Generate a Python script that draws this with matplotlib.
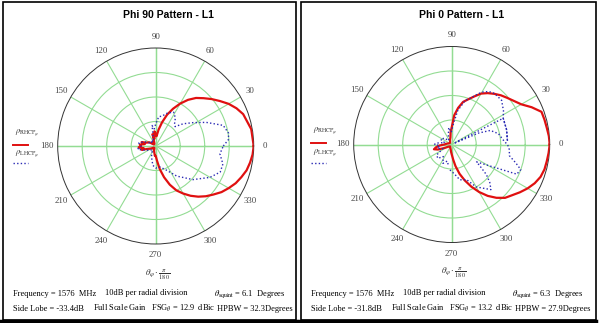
import numpy as np
import matplotlib.pyplot as plt
from matplotlib.lines import Line2D
from matplotlib.patches import Rectangle

plt.rcParams["mathtext.fontset"] = "stix"

W, H = 600, 323
DB_MIN = -40  # 4 rings x 10 dB

# Phi 90 cut (left panel), gain in dB relative to peak
phi90_rhcp_ang = [0, 10, 20, 25, 30, 35, 40, 45, 50, 55, 60, 65, 70, 75, 80, 85, 90, 95, 100, 105,
                  110, 120, 130, 140, 150, 160, 165, 170, 175, 180, 185, 190, 195, 200, 210, 220, 230, 240, 250, 260,
                  265, 270, 275, 280, 285, 290, 295, 300, 305, 310, 315, 320, 325, 330, 335, 340, 345, 350, 355, 360]
phi90_rhcp_db = [0, -0.4, -2.0, -3.6, -5.6, -8.0, -10.2, -12.4, -14.4, -17.0, -20.0, -23.2, -26.4, -30.0, -33.2, -36.0, -35.0, -34.0, -37.0, -35.0,
                 -38.0, -39.0, -38.0, -39.0, -37.0, -36.0, -34.0, -35.5, -33.5, -34.0, -33.0, -35.0, -34.0, -36.5, -38.0, -39.0, -38.5, -39.0, -38.0, -37.0,
                 -36.0, -36.0, -34.0, -30.4, -26.8, -23.2, -20.0, -17.6, -15.2, -13.0, -11.0, -9.2, -7.2, -5.6, -4.0, -2.8, -1.6, -0.9, -0.3, 0]
phi90_lhcp_ang = [0, 5, 10, 17, 25, 32, 39, 45, 50, 55, 62, 70, 78, 84, 90, 95, 100, 105, 115, 130,
                  145, 160, 170, 180, 190, 200, 215, 230, 245, 255, 262, 270, 282, 294, 305, 318, 330, 338, 345, 353, 360]
phi90_lhcp_db = [-12.4, -10.2, -9.8, -11.2, -17.2, -22.0, -25.6, -28.8, -28.0, -26.0, -24.4, -25.6, -27.5, -28.0, -31.0, -33.0, -31.5, -36.0, -38.0, -37.0,
                 -38.0, -35.0, -33.0, -34.0, -32.5, -35.0, -37.0, -38.0, -36.0, -34.0, -32.0, -31.0, -31.2, -29.2, -25.0, -19.5, -14.4, -11.6, -11.6, -13.6, -12.4]

# Phi 0 cut (right panel)
phi0_rhcp_ang = [0, 5, 10, 15, 20, 25, 30, 35, 40, 45, 50, 55, 60, 65, 70, 75, 80, 85, 90, 95,
                 100, 110, 130, 150, 170, 180, 185, 190, 195, 200, 205, 215, 230, 250, 265, 270, 276, 280, 285, 290,
                 295, 300, 305, 310, 315, 320, 325, 330, 335, 340, 345, 350, 355, 360]
phi0_rhcp_db = [0, -0.2, -0.6, -0.8, -1.0, -4.0, -7.2, -9.0, -10.4, -11.6, -13.0, -14.4, -16.0, -18.4, -20.4, -22.0, -24.8, -28.0, -33.0, -35.0,
                -37.0, -38.0, -39.0, -39.0, -38.0, -37.0, -35.0, -33.5, -32.5, -34.0, -36.5, -38.5, -39.0, -38.5, -37.0, -36.0, -33.6, -31.0, -27.6, -24.4,
                -21.0, -17.6, -14.4, -11.6, -9.2, -7.8, -6.0, -4.2, -2.6, -1.4, -0.8, -0.6, -0.3, 0]
# measured trace order (doubles back near 27 deg)
phi0_lhcp_ang = [266, 275, 283, 293, 300, 311, 315, 319, 322, 325, 335.5, 340, 344, 349, 355, 0, 3, 13, 20, 23,
                 27, 27, 15, 3, 15, 27, 33, 41.5, 50, 55, 59, 62, 68, 73, 80, 86, 92, 100, 110, 125,
                 140, 155, 165, 175, 180, 185, 195, 205, 215, 225, 235, 245, 255, 262]
phi0_lhcp_db = [-29.6, -28.0, -25.2, -24.4, -20.0, -15.6, -18.0, -21.2, -24.8, -27.6, -10.8, -10.0, -12.8, -16.0, -16.4, -17.2, -18.4, -20.4, -23.2, -28.0,
                -39.0, -16.4, -16.8, -17.2, -16.8, -16.4, -14.8, -12.8, -12.8, -13.6, -15.0, -16.4, -19.6, -21.2, -26.0, -32.0, -35.0, -33.0, -36.0, -38.0,
                -36.0, -35.0, -37.0, -33.5, -33.0, -35.0, -34.0, -36.0, -32.5, -32.0, -34.0, -31.5, -33.0, -31.0]

angle_ticks = list(range(0, 360, 30))
titles = ["Phi 90 Pattern - L1", "Phi 0 Pattern - L1"]
freq_mhz = "1576"
squint = ["6.1", "6.3"]
side_lobe = ["-33.4", "-31.8"]
fsg = ["12.9", "13.2"]
hpbw = ["32.3", "27.9"]

fig = plt.figure(figsize=(6, 3.23), dpi=100)


def fx(x):
    return x / W


def fy(y):
    return 1 - y / H


def polar_panel(cx, cy, R, rh_ang, rh_db, lh_ang, lh_db):
    ax = fig.add_axes([fx(cx - R), fy(cy + R), 2 * R / W, 2 * R / H], projection="polar")
    ax.set_ylim(DB_MIN, 0)
    ax.set_rticks([-30, -20, -10])
    ax.set_yticklabels([])
    ax.set_thetagrids(angle_ticks, labels=[""] * len(angle_ticks))
    ax.grid(color="#93dc93", lw=0.8)
    ax.spines["polar"].set_color("#333333")
    ax.spines["polar"].set_linewidth(0.7)
    ax.patch.set_alpha(0)
    # main axes a bit stronger green
    for a in (0, 90):
        ax.plot(np.radians([a, a + 180]), [0, 0], color="#4cc84c", lw=0.9, zorder=1)
    ax.plot(np.radians(rh_ang), np.clip(rh_db, DB_MIN, 0), color="#e01010", lw=1.6, zorder=3)
    ax.plot(np.radians(lh_ang), np.clip(lh_db, DB_MIN, 0), color="#2a2ab4", lw=1.0,
            ls=(0, (1, 1.6)), zorder=4)
    for a in angle_ticks:
        ax.text(np.radians(a), 4.6, str(a), ha="center", va="center", fontsize=6.3,
                family="Liberation Serif", color="#444444")
    return ax


panels = [
    dict(x0=3, x1=296, cx=155.7, cy=146.0, title_x=168,
         rh=(phi90_rhcp_ang, phi90_rhcp_db), lh=(phi90_lhcp_ang, phi90_lhcp_db)),
    dict(x0=301, x1=596, cx=451.7, cy=144.5, title_x=462,
         rh=(phi0_rhcp_ang, phi0_rhcp_db), lh=(phi0_lhcp_ang, phi0_lhcp_db)),
]

serif = "Liberation Serif"
for i, p in enumerate(panels):
    polar_panel(p["cx"], p["cy"], 98, *p["rh"], *p["lh"])

    # frame
    fig.add_artist(Rectangle((fx(p["x0"]), fy(320)), (p["x1"] - p["x0"]) / W, 318 / H,
                             fill=False, ec="black", lw=1.2, transform=fig.transFigure))
    fig.add_artist(Line2D([fx(p["x0"] - 2), fx(p["x1"])], [fy(320.5), fy(320.5)],
                          color="black", lw=2.5, transform=fig.transFigure))

    fig.text(fx(p["title_x"]), fy(15), titles[i], ha="center", va="center",
             fontsize=7.5, fontweight="bold", family="Liberation Sans")

    # legend on the left of the polar plot
    lx = p["x0"] + 10
    fig.text(fx(lx + 2), fy(133 - 2 * i), r"$\rho_{\mathrm{RHCP}_{\varphi}}$", fontsize=6,
             va="center", color="#333333")
    fig.add_artist(Line2D([fx(lx), fx(lx + 15)], [fy(145 - 2 * i), fy(145 - 2 * i)],
                          color="#e01010", lw=1.4, transform=fig.transFigure))
    fig.text(fx(lx + 2), fy(154 - 1 * i), r"$\rho_{\mathrm{LHCP}_{\varphi}}$", fontsize=6,
             va="center", color="#333333")
    fig.add_artist(Line2D([fx(lx), fx(lx + 15)], [fy(163), fy(163)], color="#2a2ab4",
                          lw=1.0, ls=(0, (1, 1.6)), transform=fig.transFigure))

    # angle variable under the plot
    fig.text(fx(p["cx"] + 2), fy(275 - 2 * i), r"$\theta_{\varphi}\cdot\frac{\pi}{180}$",
             ha="center", va="center", fontsize=6.5, color="#333333")

    # info rows
    ox = p["x0"]
    fig.text(fx(ox + 10), fy(294), f"Frequency = {freq_mhz}  MHz", fontsize=6,
             family=serif, va="center")
    fig.text(fx(ox + 102), fy(293), "10dB per radial division", fontsize=6,
             family=serif, va="center")
    fig.text(fx(ox + 211), fy(294), r"$\theta_{\mathrm{squint}}$" + f" = {squint[i]}  Degrees",
             fontsize=6, family=serif, va="center")
    fig.text(fx(ox + 10), fy(309), f"Side Lobe = {side_lobe[i]}dB", fontsize=6,
             family=serif, va="center")
    fig.text(fx(ox + 90), fy(308), "Full Scale Gain   FSG$_{\\theta}$ = " + f"{fsg[i]}  dBic",
             fontsize=6, family=serif, va="center")
    fig.text(fx(ox + 214), fy(309), f"HPBW = {hpbw[i]}Degrees", fontsize=6,
             family=serif, va="center")

fig.savefig("out.png", dpi=100)
